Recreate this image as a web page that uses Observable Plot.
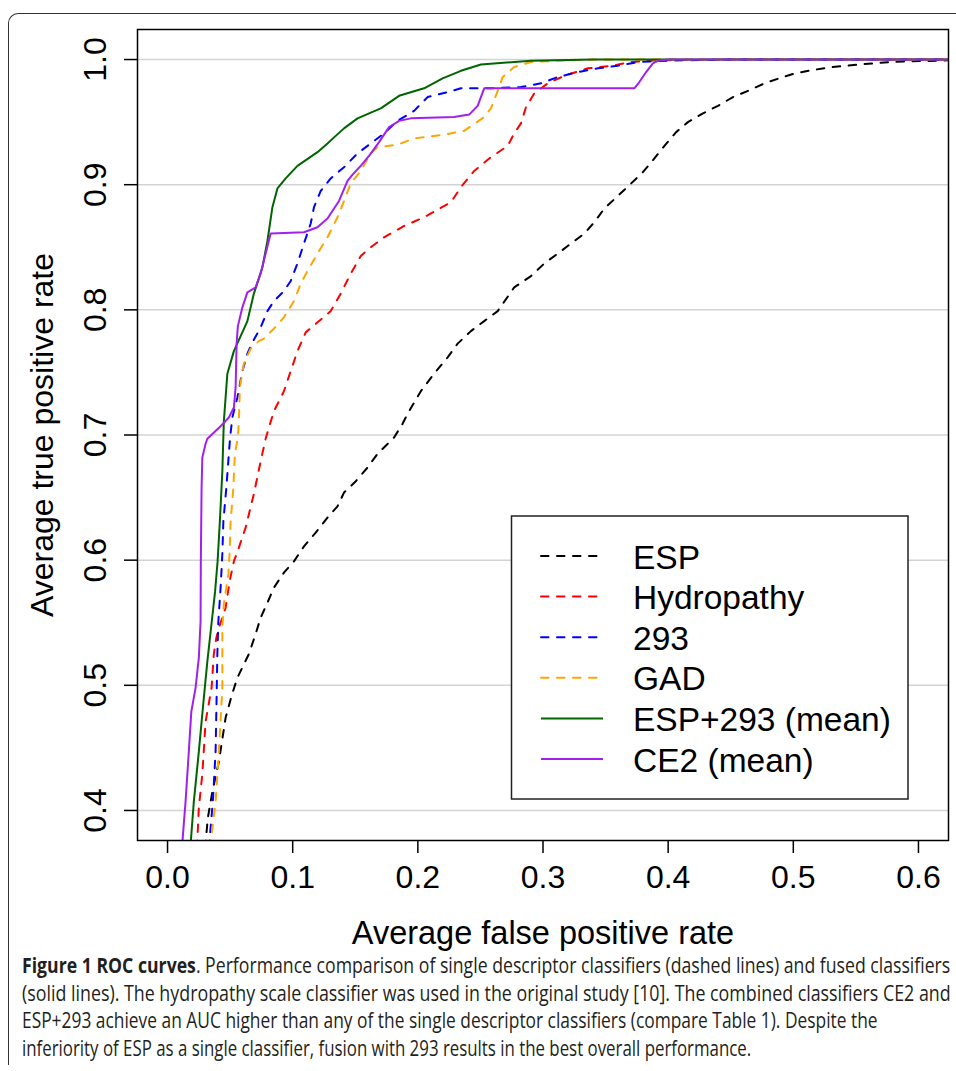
<!DOCTYPE html>
<html><head><meta charset="utf-8">
<script src="https://cdn.jsdelivr.net/npm/d3@7"></script>
<script src="https://cdn.jsdelivr.net/npm/@observablehq/plot@0.6"></script>
<style>
html,body{margin:0;padding:0;background:#fff;}
#wrap{position:relative;width:956px;height:1071px;overflow:hidden;background:#fff;}
#frame{position:absolute;left:8px;top:13px;width:1000px;height:1052px;border-left:1.5px solid #333;border-top:1.5px solid #333;border-top-left-radius:10px;box-sizing:border-box;}
#chart{position:absolute;left:0;top:0;}
#overlay{position:absolute;left:0;top:0;}
</style></head><body>
<div id="wrap"><div id="frame"></div><div id="chart"></div><svg id="overlay" width="956" height="1071"></svg></div>
<script>
// ---- data (false positive rate, true positive rate) ----
const esp = [[0.0300,0.370],[0.0322,0.394],[0.0358,0.415],[0.0410,0.439],[0.0464,0.474],[0.0510,0.491],[0.0558,0.506],[0.0650,0.525],[0.0704,0.541],[0.0744,0.554],[0.0798,0.566],[0.0850,0.578],[0.0930,0.590],[0.1010,0.599],[0.1090,0.611],[0.1184,0.622],[0.1278,0.634],[0.1358,0.643],[0.1410,0.654],[0.1504,0.663],[0.1598,0.674],[0.1678,0.685],[0.1810,0.698],[0.1878,0.709],[0.1918,0.717],[0.2024,0.735],[0.2130,0.749],[0.2238,0.762],[0.2318,0.773],[0.2424,0.783],[0.2530,0.791],[0.2638,0.799],[0.2770,0.818],[0.2904,0.827],[0.3010,0.837],[0.3118,0.845],[0.3224,0.853],[0.3330,0.861],[0.3410,0.870],[0.3490,0.881],[0.3598,0.891],[0.3704,0.901],[0.3798,0.910],[0.3890,0.921],[0.3970,0.931],[0.4064,0.942],[0.4158,0.950],[0.4278,0.957],[0.4398,0.963],[0.4518,0.970],[0.4638,0.975],[0.4770,0.981],[0.4904,0.9856],[0.5010,0.9888],[0.5144,0.9914],[0.5278,0.9936],[0.5410,0.9949],[0.5544,0.9962],[0.5678,0.9973],[0.5810,0.9981],[0.5944,0.9986],[0.6078,0.9989],[0.6238,0.9994],[0.6500,0.9996]];
const hydropathy = [[0.0235,0.370],[0.0250,0.402],[0.0278,0.429],[0.0304,0.471],[0.0352,0.498],[0.0370,0.525],[0.0390,0.538],[0.0410,0.546],[0.0464,0.562],[0.0496,0.583],[0.0530,0.599],[0.0570,0.610],[0.0624,0.626],[0.0690,0.653],[0.0744,0.679],[0.0784,0.697],[0.0810,0.706],[0.0850,0.719],[0.0930,0.735],[0.0984,0.751],[0.1038,0.767],[0.1104,0.782],[0.1198,0.790],[0.1304,0.799],[0.1384,0.813],[0.1464,0.829],[0.1544,0.843],[0.1624,0.850],[0.1730,0.858],[0.1890,0.867],[0.2050,0.874],[0.2264,0.886],[0.2344,0.898],[0.2450,0.911],[0.2584,0.922],[0.2718,0.931],[0.2770,0.941],[0.2824,0.949],[0.2864,0.962],[0.2930,0.973],[0.3038,0.981],[0.3170,0.987],[0.3358,0.993],[0.3544,0.995],[0.3704,0.998],[0.3838,0.999],[0.3944,0.9994],[0.4500,1.0],[0.6500,1.0]];
const d293 = [[0.0330,0.370],[0.0362,0.407],[0.0384,0.447],[0.0392,0.490],[0.0398,0.525],[0.0406,0.551],[0.0424,0.578],[0.0438,0.605],[0.0446,0.631],[0.0470,0.658],[0.0490,0.685],[0.0500,0.698],[0.0518,0.714],[0.0558,0.730],[0.0598,0.751],[0.0638,0.765],[0.0678,0.774],[0.0744,0.786],[0.0798,0.799],[0.0850,0.807],[0.0930,0.815],[0.0984,0.823],[0.1038,0.837],[0.1090,0.853],[0.1144,0.869],[0.1170,0.882],[0.1224,0.895],[0.1304,0.905],[0.1410,0.914],[0.1518,0.925],[0.1624,0.933],[0.1730,0.941],[0.1838,0.951],[0.1970,0.959],[0.2078,0.970],[0.2238,0.974],[0.2344,0.977],[0.2584,0.977],[0.2824,0.978],[0.2984,0.981],[0.3118,0.986],[0.3278,0.990],[0.3438,0.993],[0.3598,0.995],[0.3758,0.998],[0.3890,0.9986],[0.4024,0.9992],[0.4500,1.0],[0.6500,1.0]];
const gad = [[0.0340,0.370],[0.0384,0.407],[0.0410,0.447],[0.0438,0.498],[0.0438,0.546],[0.0450,0.565],[0.0486,0.589],[0.0496,0.605],[0.0504,0.631],[0.0526,0.658],[0.0538,0.685],[0.0562,0.698],[0.0570,0.711],[0.0578,0.738],[0.0610,0.757],[0.0664,0.769],[0.0730,0.775],[0.0770,0.777],[0.0850,0.785],[0.0930,0.794],[0.1010,0.807],[0.1064,0.821],[0.1118,0.831],[0.1198,0.845],[0.1278,0.858],[0.1358,0.874],[0.1410,0.887],[0.1464,0.901],[0.1544,0.911],[0.1624,0.925],[0.1678,0.930],[0.1838,0.932],[0.1970,0.937],[0.2210,0.940],[0.2370,0.943],[0.2530,0.954],[0.2584,0.961],[0.2638,0.975],[0.2678,0.986],[0.2770,0.994],[0.2904,0.998],[0.3100,0.999],[0.3400,1.0],[0.6500,1.0]];
const esp293 = [[0.0182,0.370],[0.0210,0.407],[0.0250,0.447],[0.0290,0.490],[0.0318,0.519],[0.0350,0.548],[0.0380,0.575],[0.0400,0.599],[0.0418,0.631],[0.0438,0.671],[0.0446,0.699],[0.0450,0.711],[0.0478,0.749],[0.0530,0.767],[0.0638,0.791],[0.0690,0.813],[0.0758,0.834],[0.0798,0.855],[0.0838,0.882],[0.0878,0.897],[0.0944,0.905],[0.1038,0.915],[0.1198,0.926],[0.1278,0.933],[0.1344,0.939],[0.1410,0.945],[0.1518,0.953],[0.1704,0.961],[0.1850,0.971],[0.2050,0.977],[0.2198,0.985],[0.2344,0.991],[0.2504,0.996],[0.2904,0.999],[0.3400,1.0],[0.6500,1.0]];
const ce2 = [[0.0115,0.370],[0.0144,0.407],[0.0170,0.447],[0.0190,0.479],[0.0224,0.498],[0.0250,0.522],[0.0264,0.551],[0.0266,0.599],[0.0272,0.658],[0.0278,0.682],[0.0304,0.693],[0.0318,0.697],[0.0424,0.707],[0.0490,0.714],[0.0530,0.722],[0.0544,0.738],[0.0552,0.773],[0.0562,0.787],[0.0598,0.802],[0.0638,0.814],[0.0704,0.818],[0.0744,0.829],[0.0784,0.845],[0.0824,0.861],[0.1090,0.862],[0.1198,0.866],[0.1278,0.873],[0.1370,0.887],[0.1438,0.903],[0.1478,0.908],[0.1544,0.915],[0.1610,0.923],[0.1690,0.934],[0.1770,0.946],[0.1850,0.951],[0.1944,0.953],[0.2290,0.954],[0.2410,0.956],[0.2478,0.963],[0.2530,0.977],[0.2904,0.977],[0.3730,0.977],[0.3770,0.982],[0.3824,0.990],[0.3878,0.997],[0.3918,0.999],[0.4000,1.0],[0.6500,1.0]];

const seriesNames = ["ESP","Hydropathy","293","GAD","ESP+293 (mean)","CE2 (mean)"];
const seriesData = [esp, hydropathy, d293, gad, esp293, ce2];
const seriesColors = ["#000000","#FF0000","#0000FF","#FFA500","#006400","#A020F0"];
const seriesDashed = [true, true, true, true, false, false];

const xTicks = [0, 0.1, 0.2, 0.3, 0.4, 0.5, 0.6];
const yTicks = [0.4, 0.5, 0.6, 0.7, 0.8, 0.9, 1.0];
const xTitle = "Average false positive rate";
const yTitle = "Average true positive rate";
const captionBold = "Figure 1 ROC curves";
const captionLines = [
  ". Performance comparison of single descriptor classifiers (dashed lines) and fused classifiers",
  "(solid lines). The hydropathy scale classifier was used in the original study [10]. The combined classifiers CE2 and",
  "ESP+293 achieve an AUC higher than any of the single descriptor classifiers (compare Table 1). Despite the",
  "inferiority of ESP as a single classifier, fusion with 293 results in the best overall performance."
];

const DASH = "7.5,8.5";
const FONT = "'Liberation Sans', Arial, Helvetica, sans-serif";

const lineMarks = seriesData.map((data, i) => Plot.line(data, {
  x: d => d[0], y: d => d[1],
  stroke: seriesColors[i], strokeWidth: 2,
  strokeDasharray: seriesDashed[i] ? DASH : null,
  strokeLinecap: "round", strokeLinejoin: "round",
  clip: true
}));

const chart = Plot.plot({
  width: 956, height: 960,
  marginLeft: 137, marginRight: 8, marginTop: 29, marginBottom: 120,
  style: {fontFamily: FONT, background: "transparent", color: "#000", overflow: "visible"},
  x: {domain: [-0.024, 0.624]},
  y: {domain: [0.376, 1.024]},
  marks: [
    Plot.ruleY(yTicks, {stroke: "#d3d3d3", strokeWidth: 1.5}),
    ...lineMarks,
    Plot.frame({stroke: "#000", strokeWidth: 1.5}),
    Plot.axisX({ticks: xTicks, tickSize: 13, tickPadding: 12, fontSize: 32, tickFormat: d3.format(".1f"), label: null, strokeWidth: 1.5}),
    Plot.axisY({ticks: yTicks, tickSize: 13, tickPadding: 19, tickRotate: -90, fontSize: 32, tickFormat: d3.format(".1f"), label: null, strokeWidth: 1.5}),
    Plot.text([xTitle], {text: d => d, frameAnchor: "bottom", dy: 103, lineAnchor: "bottom", textAnchor: "middle", fontSize: 32.5}),
    Plot.text([yTitle], {text: d => d, frameAnchor: "left", dx: -85, rotate: -90, lineAnchor: "bottom", textAnchor: "middle", fontSize: 32})
  ]
});
document.getElementById("chart").appendChild(chart);

// ---- legend + caption overlay ----
const ov = d3.select("#overlay");
const lg = ov.append("g").attr("font-family", FONT).attr("font-size", 33.5);
lg.append("rect").attr("x", 511.5).attr("y", 516).attr("width", 396.5).attr("height", 283)
  .attr("fill", "#fff").attr("stroke", "#222").attr("stroke-width", 1.5);
seriesNames.forEach((name, i) => {
  const cy = 556 + i * 40.6;
  lg.append("line").attr("x1", 541).attr("x2", seriesDashed[i] ? 599 : 603).attr("y1", cy).attr("y2", cy)
    .attr("stroke", seriesColors[i]).attr("stroke-width", 2)
    .attr("stroke-linecap", seriesDashed[i] ? "round" : "butt")
    .attr("stroke-dasharray", seriesDashed[i] ? DASH : null);
  lg.append("text").attr("x", 633).attr("y", cy + 12.5).attr("fill", "#000").text(name);
});

// caption: natural text, horizontally condensed to match the original's line widths
const capTargets = [929, 929, 856, 730];
const capBase = [973, 1000.5, 1028, 1055.5];
const cg = ov.append("g").attr("font-family", "'Open Sans', 'Liberation Sans', sans-serif").attr("font-size", 22).attr("fill", "#231f20");
captionLines.forEach((ln, i) => {
  const g = cg.append("g");
  const t = g.append("text").attr("x", 0).attr("y", 0);
  if (i === 0) t.append("tspan").attr("font-weight", "bold").text(captionBold);
  t.append("tspan").text(ln);
  const w = t.node().getComputedTextLength();
  g.attr("transform", `translate(22,${capBase[i]}) scale(${capTargets[i] / w},1)`);
});
</script></body></html>
